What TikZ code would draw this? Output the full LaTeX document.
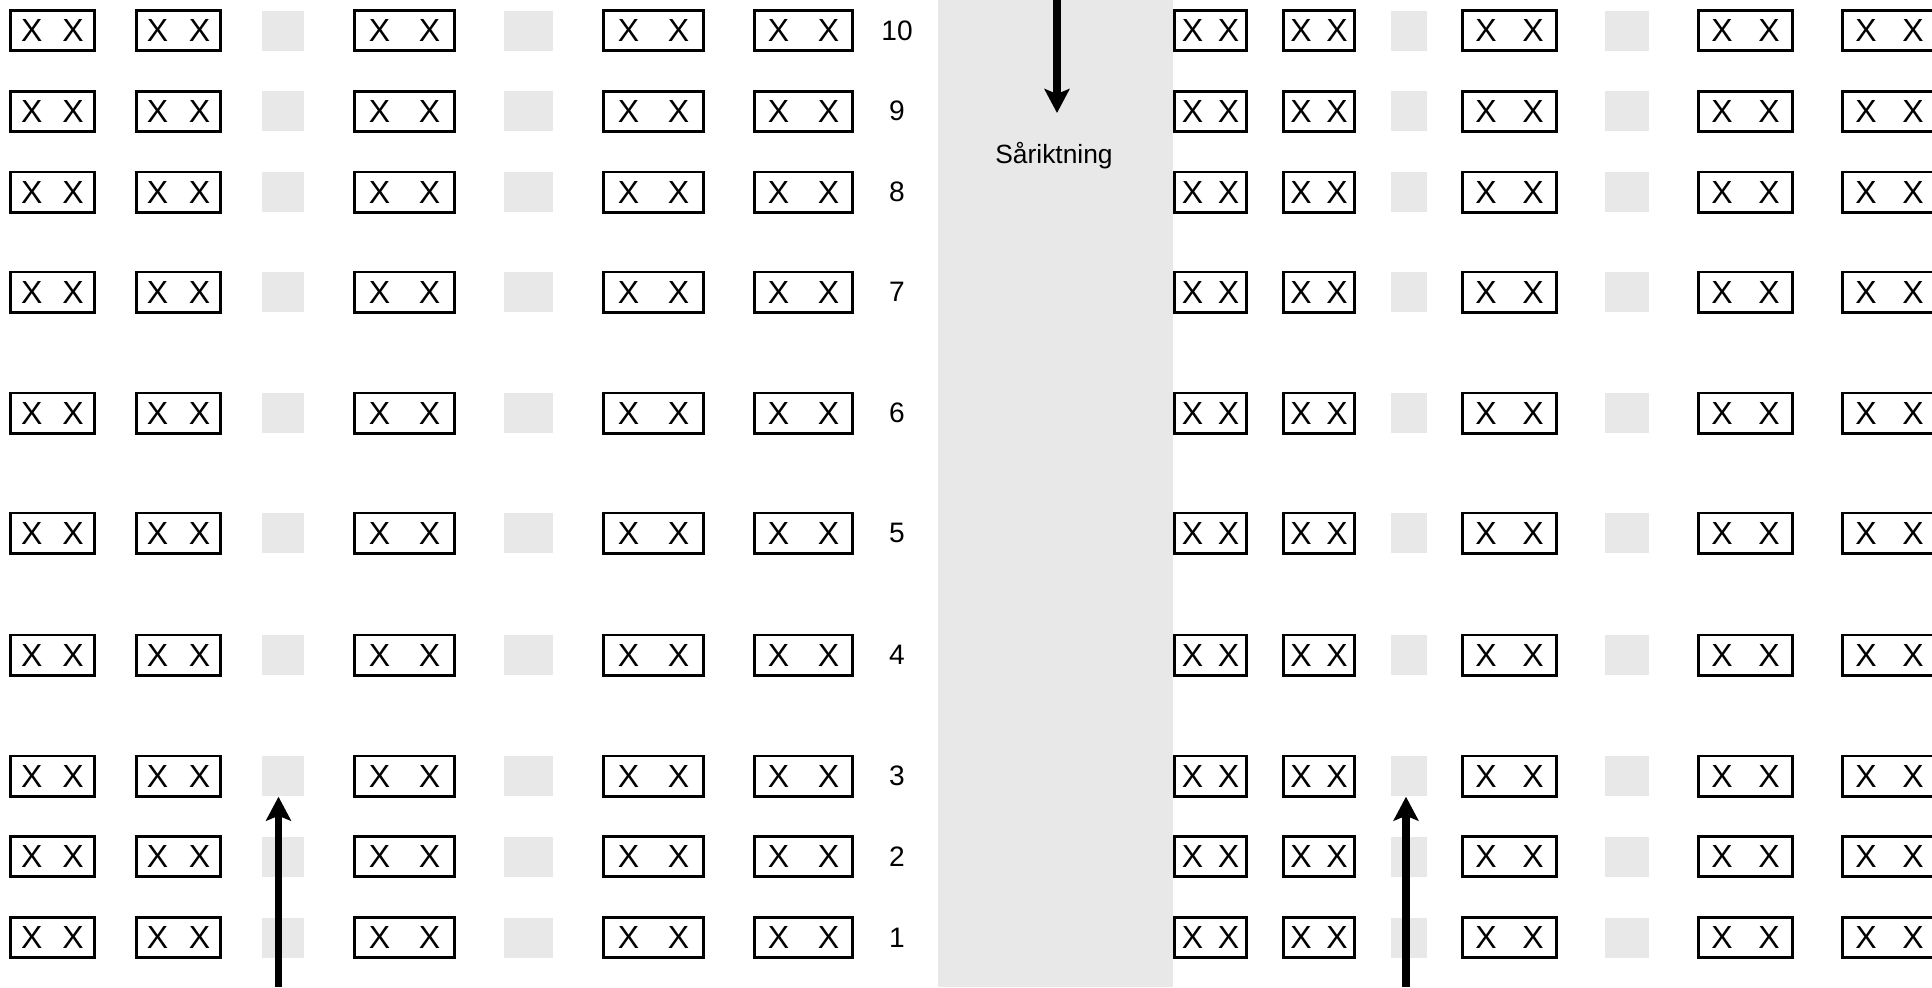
\documentclass[tikz,border=0pt]{standalone}
\usepackage{fontspec}
\setmainfont{Liberation Sans}
\usepackage{xcolor}
\usepackage{tikz}
\usetikzlibrary{arrows.meta}

\definecolor{lanegray}{RGB}{232,232,232}

\begin{document}
\begin{tikzpicture}[
    x=0.01cm, y=-0.01cm,
    seatbox/.style={draw, line width=0.85pt, minimum height=0.40cm, inner sep=0pt, font=\fontsize{9.1}{10}\selectfont},
    aislebox/.style={fill=lanegray, minimum height=0.40cm, inner sep=0pt},
    rowlabel/.style={inner sep=0pt, font=\fontsize{8}{9}\selectfont},
    arrow/.style={-{Stealth[length=0.24cm, width=0.25cm, inset=0.05cm]}, line width=2pt}
]
    \useasboundingbox (0,0) rectangle (1932,987);
    \clip (0,0) rectangle (1932,987);

    % Middle lane
    \fill[lanegray] (938,0) rectangle (1173,987);

    \foreach \n/\y in {10/30.8, 9/111.3, 8/192, 7/292, 6/413, 5/533, 4/655, 3/776, 2/856.5, 1/937.5} {
        % Left block
        \foreach \c/\x/\w/\g in {a/52.5/0.835/0.20, b/178.5/0.845/0.206, c/404.5/0.99/0.286, d/653.5/0.99/0.286, e/803.5/0.98/0.286}
            \node[seatbox, minimum width=\w cm] (seat_\c_\n) at (\x,\y) {X\hspace{\g cm}X};
        % Right block
        \foreach \c/\x/\w/\g in {f/1210.5/0.71/0.146, g/1319/0.71/0.146, h/1509.5/0.94/0.256, i/1745.5/0.94/0.256, j/1889.5/0.94/0.256}
            \node[seatbox, minimum width=\w cm] (seat_\c_\n) at (\x,\y) {X\hspace{\g cm}X};
        % Gray gaps
        \foreach \c/\x/\w in {a/283/0.42, b/528.5/0.49, c/1409/0.36, d/1627/0.44}
            \node[aislebox, minimum width=\w cm] (aisle_\c_\n) at (\x,\y) {};
        % Row numbers
        \node[rowlabel] (row_\n) at (897,\y) {\n};
    }

    % Direction text
    \node[anchor=base, inner sep=0pt, font=\fontsize{7.5}{9}\selectfont] (direction) at (1054,163) {Såriktning};

    % Arrows
    \coordinate (flow_start) at (1057,0);
    \coordinate (flow_end) at (1057,113);
    \draw[arrow] (flow_start) -- (flow_end);

    \coordinate (entry_left) at (278.5,987);
    \draw[arrow] (entry_left) -- (entry_left |- aisle_a_3.south);

    \coordinate (entry_right) at (1406,987);
    \draw[arrow] (entry_right) -- (entry_right |- aisle_c_3.south);
\end{tikzpicture}
\end{document}
